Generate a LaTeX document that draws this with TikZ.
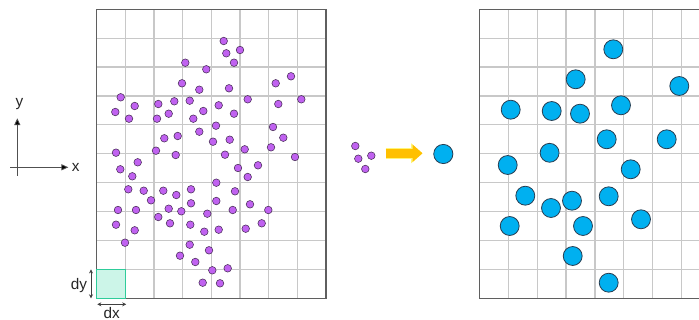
\documentclass[tikz,border=0pt]{standalone}
\usepackage{fontspec}
\setmainfont{Liberation Sans}
\usetikzlibrary{arrows.meta}
\definecolor{gridgrey}{RGB}{200,200,200}
\definecolor{framegrey}{RGB}{95,95,95}
\definecolor{axgrey}{RGB}{80,80,80}
\definecolor{dotpurple}{RGB}{192,98,240}
\definecolor{dotedge}{RGB}{70,45,85}
\definecolor{cyanfill}{RGB}{0,176,240}
\definecolor{cyanedge}{RGB}{40,62,82}
\definecolor{cellfill}{RGB}{204,245,232}
\definecolor{celledge}{RGB}{46,204,154}
\definecolor{arrgold}{RGB}{255,192,0}
\definecolor{arrglow}{RGB}{255,245,120}
\begin{document}
\begin{tikzpicture}[
    x=0.75pt, y=-0.75pt,
    gridln/.style={draw=gridgrey, line width=0.9pt},
    frame/.style={draw=framegrey, line width=0.9pt},
    pdot/.style={fill=dotpurple, draw=dotedge, line width=0.4pt},
    bdot/.style={fill=cyanfill, draw=cyanedge, line width=0.6pt},
    ax/.style={-{Triangle[length=5.2pt,width=4.6pt,fill=black]}, draw=axgrey, line width=0.6pt},
    dim/.style={{Stealth[length=3pt,width=3pt]}-{Stealth[length=3pt,width=3pt]}, draw=black!75, line width=0.5pt},
    lbl/.style={font=\fontsize{11.5}{13}\selectfont, text=black!85, inner sep=0pt, anchor=base},
    cell/.style={fill=cellfill, draw=celledge, line width=1.1pt},
    bigglow/.style={-{Triangle[length=8.6pt,width=14.6pt]}, draw=arrglow, line width=8.2pt},
    bigarr/.style={-{Triangle[length=7.5pt,width=12.75pt]}, draw=arrgold, line width=6.75pt}
  ]
  \useasboundingbox (0,0) rectangle (699,320);

  % ---------------- axes ----------------
  \coordinate (o) at (17.3,167.3);
  \coordinate (xs) at (10,167.3);
  \coordinate (xe) at (68.3,167.3);
  \coordinate (ys) at (17.3,176);
  \coordinate (ye) at (17.3,118.3);
  \draw[ax] (xs) -- (xe);
  \draw[ax] (ys) -- (ye);
  \node[lbl] (xl) at (75.7,171.3) {x};
  \node[lbl] (yl) at (19.5,106.5) {y};

  % ---------------- particles ----------------
  \foreach \i in {0,...,8}
    \draw[gridln] ({96.7+28.66*\i},9.3) -- ({96.7+28.66*\i},298.3);
  \foreach \j in {0,...,10}
    \draw[gridln] (96.7,{9.3+28.9*\j}) -- (326,{9.3+28.9*\j});
  \draw[frame] (96.7,9.3) rectangle (326,298.3);
  \draw[cell] (96.7,269.4) rectangle (125.4,298.3);
  \foreach \px/\py in {223.7/41, 226.3/53.3, 240/50, 234/62.7, 185.3/62.7, 206.3/69.3,
      182/83.3, 199.3/89.7, 229/88.3, 275.7/83.3, 291/76.3, 120.7/97.3, 134.7/106,
      115.3/112, 129/118.7, 158.3/104, 174.3/101.3, 189.7/100.7, 168.7/113.7, 157/118.7,
      203.3/111, 193.3/118.7, 218.7/105.3, 234/113.7, 247.7/99.3, 278.3/104, 301.3/99.3,
      216/125.7, 199.3/131.7, 164.3/138.3, 177.7/136, 213/141.7, 229.7/139.7, 273/127,
      283.3/137.7, 116/152.7, 156/150.7, 175.7/155, 225/154.7, 244.7/149.3, 271/147.3,
      295/157, 137.7/162.3, 120.3/169.3, 132.3/176.3, 238/168, 258/165.3, 247.7/177,
      216.3/182.7, 128.3/189.3, 143.7/190.7, 163.3/190.7, 176.3/195, 191/189.3, 235/191.3,
      151/200.3, 191/203.3, 216.3/201, 250/204.3, 118/210, 136/210, 168.7/208.7,
      181.3/211.3, 207.3/213.7, 232.7/210, 268.3/210, 158.3/217, 116/224.7, 134.7/230.3,
      170/223.3, 190.3/224.7, 204.3/231.7, 218.7/229.7, 245.7/228.7, 261.7/223.3,
      125/242.7, 189.7/244.7, 209/250.3, 180/255.7, 195.3/262, 212.3/270.3, 227.7/268.3,
      202.7/282.7, 220/283.3}
    \draw[pdot] (\px,\py) circle[radius=2.85pt];

  % dimensions of one cell
  \coordinate (dyt) at (91,269.4);
  \coordinate (dyb) at (91,298.3);
  \coordinate (dxl) at (97.3,304.3);
  \coordinate (dxr) at (126.2,304.3);
  \draw[dim] (dyt) -- (dyb);
  \draw[dim] (dxl) -- (dxr);
  \node[lbl] (dylab) at (79,289.3) {dy};
  \node[lbl] (dxlab) at (111.7,318.6) {dx};

  % ---------------- merging ----------------
  \foreach \px/\py in {355.3/146, 358.3/158.7, 371.3/155.7, 365.3/169}
    \draw[pdot] (\px,\py) circle[radius=2.85pt];
  \coordinate (arrs) at (385.5,153.3);
  \coordinate (arre) at (422.5,153.3);
  \draw[bigglow] (arrs) -- (arre);
  \draw[bigarr] (arrs) -- (arre);
  \draw[bdot] (443.3,154) circle[radius=7.2pt];

  % ---------------- super-particles ----------------
  \begin{scope}
    \clip (0,0) rectangle (699,320);
    \foreach \i in {0,...,8}
      \draw[gridln] ({479.3+28.9*\i},9.3) -- ({479.3+28.9*\i},298.3);
    \foreach \j in {0,...,10}
      \draw[gridln] (479.3,{9.3+28.9*\j}) -- (712,{9.3+28.9*\j});
    \draw[frame] (479.3,9.3) rectangle (710.5,298.3);
    \foreach \px/\py in {613.3/49.3, 575.7/79.3, 679.3/86, 510.7/109.7, 551.7/111,
        580/113.7, 621/105.3, 606.7/139.3, 666.7/139.3, 549.6/152.8, 507.7/165,
        630.7/169.3, 525.3/195.7, 551/208, 572/200.7, 608.7/196.3, 509.7/226, 583/226,
        641/219.3, 572.7/256, 608.7/282.7}
      \draw[bdot] (\px,\py) circle[radius=7.1pt];
  \end{scope}
\end{tikzpicture}
\end{document}
